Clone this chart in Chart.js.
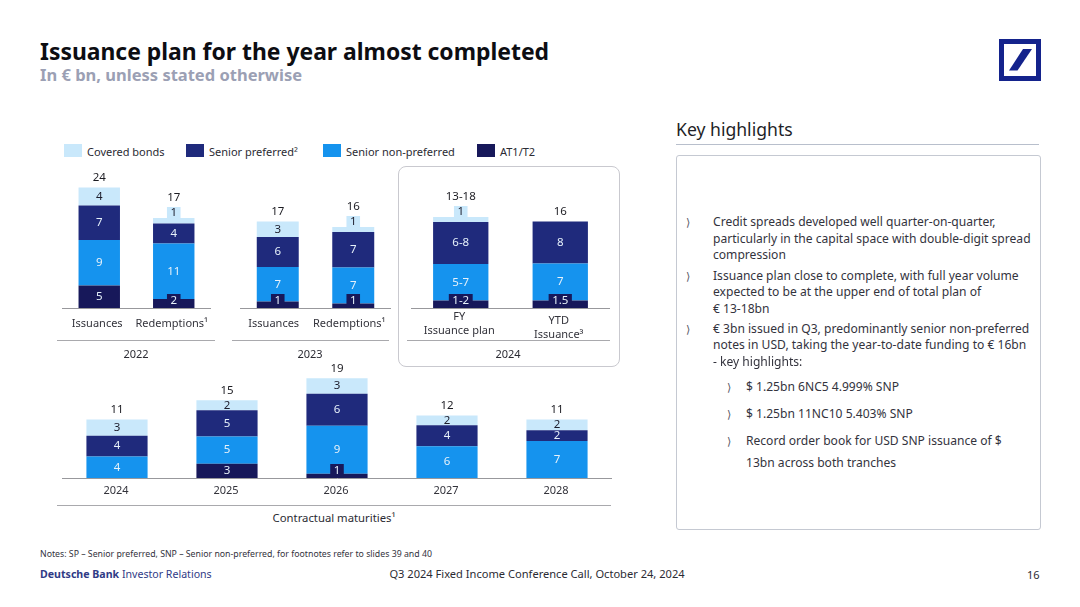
<!DOCTYPE html>
<html>
<head>
<meta charset="utf-8">
<title>Issuance plan</title>
<script src="https://cdn.jsdelivr.net/npm/chart.js@4"></script>
<style>
html, body { margin: 0; padding: 0; background: #fff; }
#slide { position: relative; width: 1080px; height: 607px; overflow: hidden; font-family: "Noto Sans", sans-serif; color: #2b2b33; }
#slide canvas { position: absolute; }
.t { position: absolute; white-space: nowrap; line-height: 1; transform: translateY(-50%); }
.c { transform: translate(-50%, -50%); }
.rule { position: absolute; height: 1px; background: #a9a9ad; }
.swatch { position: absolute; width: 18px; height: 13px; top: 144px; }
.body { font-size: 12.08px; color: #33333d; }
.chev { font-family: "DejaVu Sans"; font-size: 11px; color: #55555f; }
</style>
</head>
<body>
<div id="slide">
  <div class="t" style="left:40px;top:52px;font-size:22.9px;font-weight:700;color:#0d0d12">Issuance plan for the year almost completed</div>
  <div class="t" style="left:40px;top:75px;font-size:16.5px;font-weight:700;color:#9ba0b4">In € bn, unless stated otherwise</div>
  <svg style="position:absolute;left:999px;top:39px" width="42" height="42" viewBox="0 0 42 42">
    <rect x="2.5" y="2.5" width="37" height="37" fill="#fff" stroke="#14238c" stroke-width="5"/>
    <polygon points="10,31.5 18.5,31.5 33,10 24,10" fill="#14238c"/>
  </svg>

  <div style="position:absolute;left:398px;top:166px;width:220px;height:199px;border:1px solid #c9c9cf;border-radius:8px"></div>

  <div id="legend"></div>

  <canvas id="c2022" width="149" height="186" style="left:62px;top:158px"></canvas>
  <canvas id="c2023" width="151" height="186" style="left:240px;top:158px"></canvas>
  <canvas id="c2024" width="199" height="186" style="left:411px;top:158px"></canvas>
  <canvas id="cMat" width="550" height="142" style="left:62px;top:360px"></canvas>

  <div class="rule" style="left:57px;top:340px;width:158px"></div>
  <div class="rule" style="left:232px;top:340px;width:157px"></div>
  <div class="rule" style="left:407px;top:340px;width:203px"></div>
  <div class="rule" style="left:57px;top:505px;width:554px"></div>
  <div class="t c" style="left:136px;top:353px;font-size:11px">2022</div>
  <div class="t c" style="left:310px;top:353px;font-size:11px">2023</div>
  <div class="t c" style="left:508px;top:353px;font-size:11px">2024</div>
  <div class="t c" style="left:334px;top:518px;font-size:11.3px">Contractual maturities¹</div>

  <div class="t" style="left:676px;top:130px;font-size:17.6px;color:#1f1f27">Key highlights</div>
  <div class="rule" style="left:676px;top:144px;width:363px;background:#b8bfcc"></div>
  <div style="position:absolute;left:676px;top:155px;width:363px;height:373px;border:1px solid #c5c9d2;border-radius:3px"></div>
  <div id="highlights"></div>

  <div class="t" style="left:40px;top:554px;font-size:8.75px;color:#33333d">Notes: SP – Senior preferred, SNP – Senior non-preferred, for footnotes refer to slides 39 and 40</div>
  <div class="t" style="left:40px;top:574px;font-size:10.6px;color:#2f3a86"><b>Deutsche Bank</b> Investor Relations</div>
  <div class="t c" style="left:537px;top:574px;font-size:11.1px">Q3 2024 Fixed Income Conference Call, October 24, 2024</div>
  <div class="t" style="left:1027px;top:574px;font-size:11px">16</div>
</div>

<script>
"use strict";

// series names + colours
var seriesNames = ["Covered bonds", "Senior preferred²", "Senior non-preferred", "AT1/T2"];
var coveredColor = "#c9e8fb", spColor = "#1f2a7c", snpColor = "#1593ee", atColor = "#17185a";

// 2022
var cats2022 = ["Issuances", "Redemptions¹"];
var at2022 = [4.5, 1.8];
var snp2022 = [9.1, 11.1];
var sp2022 = [6.9, 4.0];
var cb2022 = [3.6, 1.1];
var totals2022 = ["24", "17"];

// 2023
var cats2023 = ["Issuances", "Redemptions¹"];
var at2023 = [1.3, 0.9];
var snp2023 = [6.9, 7.2];
var sp2023 = [6.0, 7.1];
var cb2023 = [3.1, 1.0];
var totals2023 = ["17", "16"];

// 2024, the plan is given as ranges so the printed text is kept apart
var cats2024 = [["FY", "Issuance plan"], ["YTD", "Issuance³"]];
var at2024 = [1.5, 1.5];
var snp2024 = [7.3, 7.4];
var sp2024 = [8.4, 8.4];
var cb2024 = [1.0, null];
var totals2024 = ["13-18", "16"];
var atText2024 = ["1-2", "1.5"];
var snpText2024 = ["5-7", "7"];
var spText2024 = ["6-8", "8"];
var cbText2024 = ["1", null];

// contractual maturities
var catsMat = ["2024", "2025", "2026", "2027", "2028"];
var atMat = [null, 2.75, 0.8, null, null];
var snpMat = [4.1, 5.2, 9.2, 6.1, 7.1];
var spMat = [4.0, 5.05, 6.15, 4.0, 2.05];
var cbMat = [3.1, 1.9, 3.0, 1.9, 2.05];
var totalsMat = ["11", "15", "19", "12", "11"];

var highlightLines = [
    [713, 222, "Credit spreads developed well quarter-on-quarter,", 686],
    [713, 239, "particularly in the capital space with double-digit spread"],
    [713, 255, "compression"],
    [713, 276, "Issuance plan close to complete, with full year volume", 686],
    [713, 292, "expected to be at the upper end of total plan of"],
    [713, 309, "€ 13-18bn"],
    [713, 329, "€ 3bn issued in Q3, predominantly senior non-preferred", 686],
    [713, 345, "notes in USD, taking the year-to-date funding to € 16bn"],
    [713, 362, "- key highlights:"],
    [746, 387, "$ 1.25bn 6NC5 4.999% SNP", 727],
    [746, 414, "$ 1.25bn 11NC10 5.403% SNP", 727],
    [746, 441, "Record order book for USD SNP issuance of $", 727],
    [746, 463, "13bn across both tranches"]
];

function addText(parent, cls, x, y, text) {
    var el = document.createElement("div");
    el.className = "t " + cls;
    el.style.left = x + "px";
    el.style.top = y + "px";
    el.textContent = text;
    parent.appendChild(el);
}

highlightLines.forEach(function (l) {
    var box = document.getElementById("highlights");
    addText(box, "body", l[0], l[1], l[2]);
    if (l[3]) addText(box, "chev", l[3], l[1], "⟩");
});

// legend strip above the charts
var legendBox = document.getElementById("legend");
[[64, 87, coveredColor], [186, 209, spColor], [323, 346, snpColor], [477, 500, atColor]].forEach(function (p, i) {
    var s = document.createElement("div");
    s.className = "swatch";
    s.style.left = p[0] + "px";
    s.style.background = p[2];
    legendBox.appendChild(s);
    addText(legendBox, "legendtext", p[1], 151, seriesNames[i]);
    legendBox.lastChild.style.fontSize = "11px";
});

// labels inside the bars, totals above them
function barLabels(panel) {
    return {
        id: "barLabels",
        beforeDraw: function (chart) {
            if (!panel.secondTickDrop) return;
            var items = chart.scales.x.getLabelItems();
            items[1].options.translation[1] += panel.secondTickDrop;
        },
        afterDatasetsDraw: function (chart) {
            var ctx = chart.ctx;
            ctx.save();
            ctx.font = "11.5px 'Noto Sans'";
            ctx.textAlign = "center";
            ctx.textBaseline = "middle";
            var tops = [];
            chart.data.datasets.forEach(function (ds, d) {
                var bars = chart.getDatasetMeta(d).data;
                ds.data.forEach(function (v, i) {
                    if (v === null) return;
                    var bar = bars[i], top = bar.y, base = bar.base;
                    var txt = panel.texts ? panel.texts[d][i] : String(Math.round(v));
                    var y = (top + base) / 2;
                    var patched = (panel.patched || []).some(function (p) { return p[0] === d && p[1] === i; });
                    tops[i] = top;
                    if (patched) {
                        var w = ctx.measureText(txt).width + 7;
                        ctx.fillStyle = ds.backgroundColor;
                        if (d === 0) {
                            ctx.fillRect(bar.x - w / 2, base - 14, w, 14);
                            y = base - 7;
                        } else {
                            ctx.fillRect(bar.x - w / 2, top - 11, w, 12);
                            y = top - 5;
                            tops[i] = top - 11;
                        }
                    }
                    ctx.fillStyle = d === 3 ? "#1c1c2b" : "#e6f1fa";
                    ctx.fillText(txt, bar.x, y);
                });
            });
            ctx.fillStyle = "#1c1c22";
            panel.totals.forEach(function (t, i) {
                ctx.fillText(t, chart.getDatasetMeta(0).data[i].x, tops[i] - 9.5);
            });
            ctx.restore();
        }
    };
}

function stackedPanel(id, panel) {
    new Chart(document.getElementById(id), {
        type: "bar",
        data: {
            labels: panel.cats,
            datasets: [
                {label: seriesNames[3], data: panel.at, backgroundColor: atColor},
                {label: seriesNames[2], data: panel.snp, backgroundColor: snpColor},
                {label: seriesNames[1], data: panel.sp, backgroundColor: spColor},
                {label: seriesNames[0], data: panel.cb, backgroundColor: coveredColor}
            ]
        },
        options: {
            responsive: false,
            animation: false,
            layout: {padding: 0},
            barPercentage: 0.556,
            categoryPercentage: 1,
            plugins: {legend: {display: false}, tooltip: {enabled: false}},
            scales: {
                x: {
                    stacked: true,
                    grid: {display: false, drawTicks: false},
                    border: {display: true, color: "#98989c", width: 1},
                    ticks: {
                        padding: panel.tickPad,
                        labelOffset: panel.tickShift,
                        maxRotation: 0,
                        autoSkip: false,
                        color: "#33333b",
                        font: {family: "'Noto Sans'", size: 11, lineHeight: 1.27}
                    },
                    afterFit: function (scale) {
                        scale.height = panel.axisHeight;
                        // the long last label must not shrink the plot
                        scale.paddingLeft = 0;
                        scale.paddingRight = 0;
                    }
                },
                y: {stacked: true, display: false, min: 0, max: panel.yMax}
            }
        },
        plugins: [barLabels(panel)]
    });
}

stackedPanel("c2022", {
    cats: cats2022, at: at2022, snp: snp2022, sp: sp2022, cb: cb2022, totals: totals2022,
    yMax: 30, axisHeight: 36, tickPad: 9, tickShift: -2, patched: [[0, 1], [3, 1]]
});
stackedPanel("c2023", {
    cats: cats2023, at: at2023, snp: snp2023, sp: sp2023, cb: cb2023, totals: totals2023,
    yMax: 30, axisHeight: 36, tickPad: 9, tickShift: -4, patched: [[0, 0], [0, 1], [3, 1]]
});
stackedPanel("c2024", {
    cats: cats2024, at: at2024, snp: snp2024, sp: sp2024, cb: cb2024, totals: totals2024,
    texts: [atText2024, snpText2024, spText2024, cbText2024],
    yMax: 30, axisHeight: 36, tickPad: 2, tickShift: -1.5, secondTickDrop: 4,
    patched: [[0, 0], [0, 1], [3, 0]]
});
stackedPanel("cMat", {
    cats: catsMat, at: atMat, snp: snpMat, sp: spMat, cb: cbMat, totals: totalsMat,
    yMax: 22.63, axisHeight: 24, tickPad: 6, tickShift: -1, patched: [[0, 2]]
});
</script>
</body>
</html>
